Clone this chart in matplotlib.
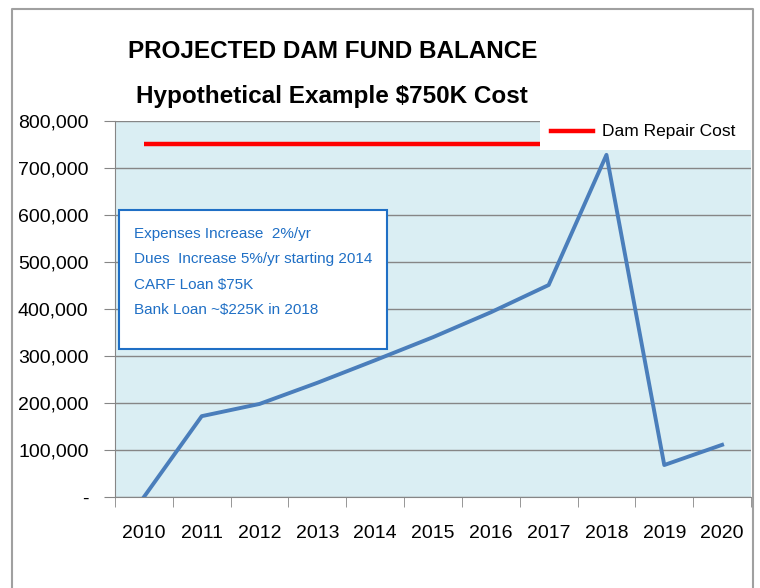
import numpy as np
import matplotlib.pyplot as plt
from matplotlib.ticker import FuncFormatter
from matplotlib.patches import Rectangle

plt.rcParams['font.family'] = ['Liberation Sans', 'DejaVu Sans']

years = ['2010', '2011', '2012', '2013', '2014', '2015', '2016', '2017', '2018', '2019', '2020']
balance = [0, 172000, 198000, 243000, 291000, 340000, 393000, 451000, 728000, 68000, 111000]
repair_cost = [750000] * len(years)
notes = ['Expenses Increase  2%/yr',
         'Dues  Increase 5%/yr starting 2014',
         'CARF Loan $75K',
         'Bank Loan ~$225K in 2018']

fig = plt.figure(figsize=(7.6, 5.88), dpi=100)
ax = fig.add_axes([115/760, 91/588, 636/760, 376/588])
ax.set_facecolor('#DAEEF3')

x = np.arange(len(years))
ax.plot(x, repair_cost, color='#FF0000', lw=3.2, solid_capstyle='butt', zorder=3)
ax.plot(x, balance, color='#4A7EBB', lw=2.8, zorder=4)

ax.set_xlim(-0.5, len(years) - 0.5)
ax.set_ylim(0, 800000)
ax.set_yticks(np.arange(0, 800001, 100000))
ax.yaxis.set_major_formatter(FuncFormatter(lambda v, p: '-' if v == 0 else f'{int(v):,}'))
ax.set_xticks(x)
ax.set_xticklabels(years)
ax.set_xticks(np.arange(-0.5, len(years)), minor=True)
ax.tick_params(axis='x', which='major', length=0, pad=20, labelsize=14)
ax.tick_params(axis='x', which='minor', length=7, color='#868686')
ax.tick_params(axis='y', length=8, color='#868686', labelsize=14, pad=11)
ax.grid(axis='y', color='#868686', lw=1)
ax.set_axisbelow(True)
for s in ['top', 'right']:
    ax.spines[s].set_visible(False)
for s in ['left', 'bottom']:
    ax.spines[s].set_color('#868686')

# legend box (drawn by hand, Excel style)
ax.add_patch(Rectangle((0.668, 0.923), 0.34, 0.1, transform=ax.transAxes,
                       fc='white', ec='none', clip_on=False, zorder=6))
ax.plot([0.686, 0.752], [0.973, 0.973], transform=ax.transAxes, color='#FF0000',
        lw=3.2, clip_on=False, zorder=7)
ax.text(0.766, 0.973, 'Dam Repair Cost', transform=ax.transAxes, ha='left', va='center',
        fontsize=12.5, zorder=7)

# notes box
ax.add_patch(Rectangle((0.0063, 0.394), 0.421, 0.369, transform=ax.transAxes,
                       fc='white', ec='#1F6FC5', lw=1.5, zorder=6))
for i, line in enumerate(notes):
    ax.text(0.030, 0.699 - i * 0.0673, line, transform=ax.transAxes, ha='left', va='center',
            color='#1F6FC5', fontsize=11, zorder=7)

fig.text(333/760, 1 - 52/588, 'PROJECTED DAM FUND BALANCE', ha='center', va='center',
         fontsize=17.5, fontweight='bold')
fig.text(332/760, 1 - 97/588, 'Hypothetical Example $750K Cost', ha='center', va='center',
         fontsize=17.5, fontweight='bold')

# outer frame
fig.add_artist(plt.Line2D([12/760, 12/760, 753/760, 753/760], [0, 1 - 9/588, 1 - 9/588, 0],
                          color='#A0A0A0', lw=1.5))

fig.savefig('out.png', dpi=100)
